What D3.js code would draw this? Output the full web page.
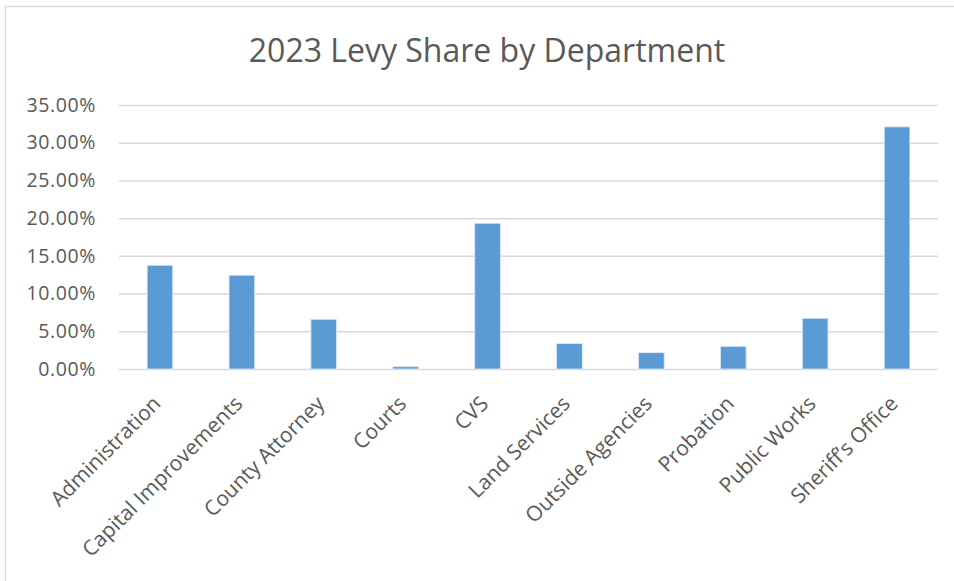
<!DOCTYPE html>
<html>
<head>
<meta charset="utf-8">
<script src="https://cdn.jsdelivr.net/npm/d3@7"></script>
<style>
  body { margin: 0; background: #fff; }
  text { font-family: "Open Sans", sans-serif; fill: #595959; }
</style>
</head>
<body>
<div id="chart"></div>
<script>
// Data
var departments = ["Administration", "Capital Improvements", "County Attorney", "Courts", "CVS",
  "Land Services", "Outside Agencies", "Probation", "Public Works", "Sheriff\u2019s Office"];
var levyShare = [0.1375, 0.1243, 0.0659, 0.0030, 0.1932, 0.0336, 0.0216, 0.0300, 0.0672, 0.3210];
var yTicks = [0, 0.05, 0.10, 0.15, 0.20, 0.25, 0.30, 0.35];

var svgWidth = 954;
var svgHeight = 581;

var margin = { top: 105, right: 16, bottom: 212, left: 119 };
var width = svgWidth - margin.left - margin.right;
var height = svgHeight - margin.top - margin.bottom;

var svg = d3.select("#chart")
  .append("svg")
  .attr("width", svgWidth)
  .attr("height", svgHeight);

// chart area border
svg.append("rect")
  .attr("x", 5.5)
  .attr("y", 6.5)
  .attr("width", svgWidth + 10)
  .attr("height", svgHeight + 10)
  .attr("fill", "none")
  .attr("stroke", "#d9d9d9")
  .attr("stroke-width", 1.5);

svg.append("text")
  .attr("x", 487)
  .attr("y", 62)
  .attr("text-anchor", "middle")
  .style("font-size", "32px")
  .text("2023 Levy Share by Department");

var chartGroup = svg.append("g")
  .attr("transform", `translate(${margin.left}, ${margin.top})`);

var xBandScale = d3.scaleBand()
  .domain(departments)
  .range([0, width]);

var yLinearScale = d3.scaleLinear()
  .domain([0, 0.35])
  .range([height, 0]);

// gridlines + y labels
var leftAxis = d3.axisLeft(yLinearScale)
  .tickValues(yTicks)
  .tickSize(-width)
  .tickPadding(23)
  .tickFormat(d3.format(".2%"));

var yAxisGroup = chartGroup.append("g").call(leftAxis);
yAxisGroup.select(".domain").remove();
yAxisGroup.selectAll("line")
  .attr("stroke", "#d9d9d9")
  .attr("stroke-width", 1.5);
yAxisGroup.selectAll("text")
  .style("font-size", "19.5px")
  .style("font-family", "Open Sans")
  .style("letter-spacing", "0.6px")
  .style("fill", "#595959");

// bars
var barWidth = xBandScale.bandwidth() * 0.313;
chartGroup.selectAll(".bar")
  .data(levyShare)
  .enter()
  .append("rect")
  .attr("class", "bar")
  .attr("x", (d, i) => xBandScale(departments[i]) + xBandScale.bandwidth() / 2 - barWidth / 2)
  .attr("y", d => yLinearScale(d))
  .attr("width", barWidth)
  .attr("height", d => height - yLinearScale(d))
  .attr("fill", "#5b9bd5")
  .attr("stroke", "#dbe8f5")
  .attr("stroke-width", 0.8);

// x labels rotated
chartGroup.selectAll(".xlabel")
  .data(departments)
  .enter()
  .append("text")
  .attr("class", "xlabel")
  .attr("text-anchor", "end")
  .attr("transform", d => `translate(${xBandScale(d) + xBandScale.bandwidth() / 2 + 2}, ${height + 36}) rotate(-45)`)
  .style("font-size", "21px")
  .text(d => d);
</script>
</body>
</html>
